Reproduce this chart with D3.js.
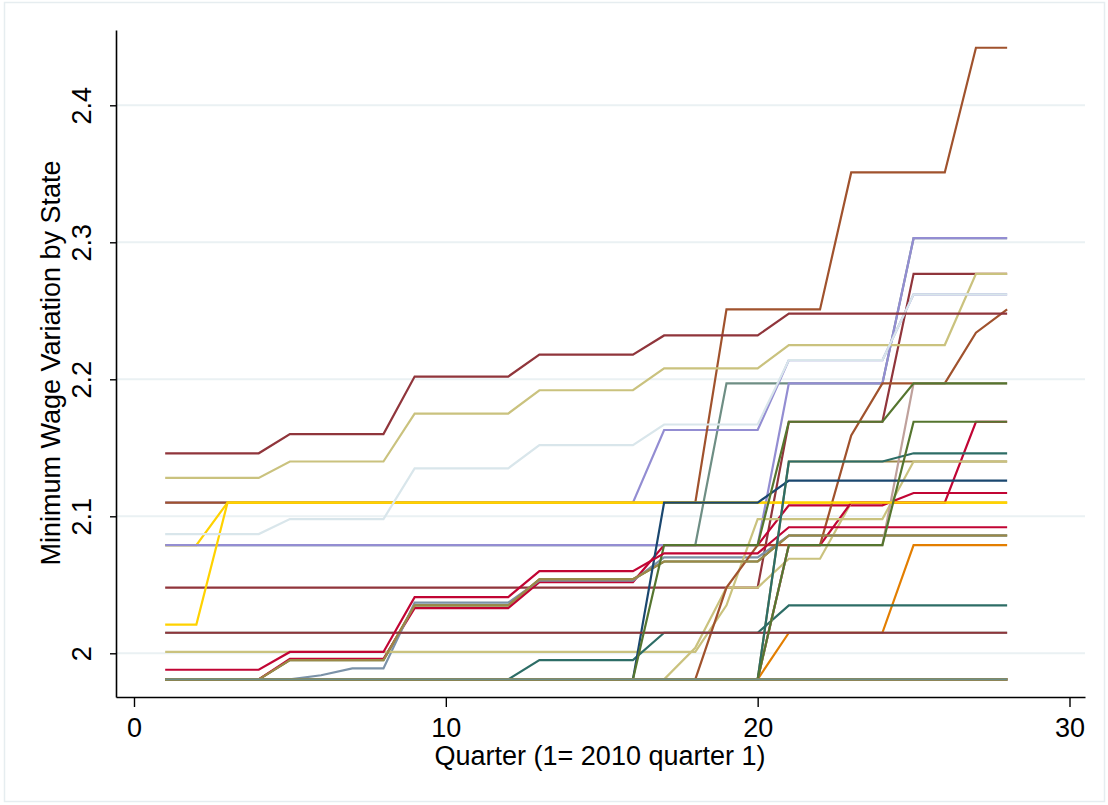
<!DOCTYPE html>
<html>
<head>
<meta charset="utf-8">
<script src="https://cdn.jsdelivr.net/npm/d3@7"></script>
<style>
  body { margin: 0; background: #fff; }
  text { font-family: "Liberation Sans", Arial, sans-serif; fill: #000; }
</style>
</head>
<body>
<div id="chart"></div>
<script>
// quarters (1 = 2010 q1)
const quarters = [1,2,3,4,5,6,7,8,9,10,11,12,13,14,15,16,17,18,19,20,21,22,23,24,25,26,27,28];
const xTicks = [0, 10, 20, 30];
const yTicks = [2, 2.1, 2.2, 2.3, 2.4];

// log minimum wage by state
const federal = [1.981,1.981,1.981,1.981,1.981,1.981,1.981,1.981,1.981,1.981,1.981,1.981,1.981,1.981,1.981,1.981,1.981,1.981,1.981,1.981,1.981,1.981,1.981,1.981,1.981,1.981,1.981,1.981];
const AK = [2.048,2.048,2.048,2.048,2.048,2.048,2.048,2.048,2.048,2.048,2.048,2.048,2.048,2.048,2.048,2.048,2.048,2.048,2.048,2.048,2.169,2.169,2.169,2.169,2.277,2.277,2.277,2.277];
const AZ = [1.981,1.981,1.981,1.981,1.995,1.995,1.995,1.995,2.035,2.035,2.035,2.035,2.054,2.054,2.054,2.054,2.067,2.067,2.067,2.067,2.086,2.086,2.086,2.086,2.086,2.086,2.086,2.086];
const AR = [1.981,1.981,1.981,1.981,1.981,1.981,1.981,1.981,1.981,1.981,1.981,1.981,1.981,1.981,1.981,1.981,1.981,1.981,1.981,1.981,2.015,2.015,2.015,2.015,2.079,2.079,2.079,2.079];
const CA = [2.079,2.079,2.079,2.079,2.079,2.079,2.079,2.079,2.079,2.079,2.079,2.079,2.079,2.079,2.079,2.079,2.079,2.079,2.197,2.197,2.197,2.197,2.197,2.197,2.303,2.303,2.303,2.303];
const CO = [1.981,1.981,1.981,1.981,1.996,1.996,1.996,1.996,2.033,2.033,2.033,2.033,2.052,2.052,2.052,2.052,2.079,2.079,2.079,2.079,2.108,2.108,2.108,2.108,2.117,2.117,2.117,2.117];
const CT = [2.110,2.110,2.110,2.110,2.110,2.110,2.110,2.110,2.110,2.110,2.110,2.110,2.110,2.110,2.110,2.110,2.163,2.163,2.163,2.163,2.214,2.214,2.214,2.214,2.262,2.262,2.262,2.262];
const DE = [1.981,1.981,1.981,1.981,1.981,1.981,1.981,1.981,1.981,1.981,1.981,1.981,1.981,1.981,1.981,1.981,1.981,2.004,2.048,2.048,2.069,2.069,2.110,2.110,2.110,2.110,2.110,2.110];
const DC = [2.110,2.110,2.110,2.110,2.110,2.110,2.110,2.110,2.110,2.110,2.110,2.110,2.110,2.110,2.110,2.110,2.110,2.110,2.251,2.251,2.251,2.251,2.351,2.351,2.351,2.351,2.442,2.442];
const FL = [1.981,1.981,1.981,1.981,1.981,1.984,1.989,1.989,2.037,2.037,2.037,2.037,2.053,2.053,2.053,2.053,2.070,2.070,2.070,2.070,2.086,2.086,2.086,2.086,2.086,2.086,2.086,2.086];
const HI = [1.981,1.981,1.981,1.981,1.981,1.981,1.981,1.981,1.981,1.981,1.981,1.981,1.981,1.981,1.981,1.981,1.981,1.981,1.981,1.981,2.140,2.140,2.140,2.140,2.140,2.140,2.140,2.140];
const IL = [2.079,2.079,2.110,2.110,2.110,2.110,2.110,2.110,2.110,2.110,2.110,2.110,2.110,2.110,2.110,2.110,2.110,2.110,2.110,2.110,2.110,2.110,2.110,2.110,2.110,2.110,2.110,2.110];
const ME = [2.015,2.015,2.015,2.015,2.015,2.015,2.015,2.015,2.015,2.015,2.015,2.015,2.015,2.015,2.015,2.015,2.015,2.015,2.015,2.015,2.015,2.015,2.015,2.015,2.015,2.015,2.015,2.015];
const MD = [1.981,1.981,1.981,1.981,1.981,1.981,1.981,1.981,1.981,1.981,1.981,1.981,1.981,1.981,1.981,1.981,1.981,1.981,1.981,1.981,2.079,2.079,2.110,2.110,2.110,2.110,2.169,2.169];
const MA = [2.079,2.079,2.079,2.079,2.079,2.079,2.079,2.079,2.079,2.079,2.079,2.079,2.079,2.079,2.079,2.079,2.079,2.079,2.079,2.079,2.197,2.197,2.197,2.197,2.303,2.303,2.303,2.303];
const MI = [2.001,2.001,2.001,2.001,2.001,2.001,2.001,2.001,2.001,2.001,2.001,2.001,2.001,2.001,2.001,2.001,2.001,2.001,2.035,2.098,2.098,2.098,2.098,2.098,2.140,2.140,2.140,2.140];
const MN = [1.981,1.981,1.981,1.981,1.981,1.981,1.981,1.981,1.981,1.981,1.981,1.981,1.981,1.981,1.981,1.981,1.981,1.981,2.048,2.079,2.079,2.079,2.159,2.197,2.197,2.197,2.234,2.251];
const MO = [1.981,1.981,1.981,1.981,1.981,1.981,1.981,1.981,1.981,1.981,1.981,1.981,1.995,1.995,1.995,1.995,2.015,2.015,2.015,2.015,2.035,2.035,2.035,2.035,2.035,2.035,2.035,2.035];
const MT = [1.981,1.981,1.981,1.981,1.995,1.995,1.995,1.995,2.035,2.035,2.035,2.035,2.054,2.054,2.054,2.054,2.067,2.067,2.067,2.067,2.086,2.086,2.086,2.086,2.086,2.086,2.086,2.086];
const NE = [1.981,1.981,1.981,1.981,1.981,1.981,1.981,1.981,1.981,1.981,1.981,1.981,1.981,1.981,1.981,1.981,1.981,1.981,1.981,1.981,2.079,2.079,2.079,2.079,2.197,2.197,2.197,2.197];
const NV = [2.021,2.021,2.110,2.110,2.110,2.110,2.110,2.110,2.110,2.110,2.110,2.110,2.110,2.110,2.110,2.110,2.110,2.110,2.110,2.110,2.110,2.110,2.110,2.110,2.110,2.110,2.110,2.110];
const NJ = [1.981,1.981,1.981,1.981,1.981,1.981,1.981,1.981,1.981,1.981,1.981,1.981,1.981,1.981,1.981,1.981,2.110,2.110,2.110,2.110,2.126,2.126,2.126,2.126,2.126,2.126,2.126,2.126];
const NM = [2.015,2.015,2.015,2.015,2.015,2.015,2.015,2.015,2.015,2.015,2.015,2.015,2.015,2.015,2.015,2.015,2.015,2.015,2.015,2.015,2.015,2.015,2.015,2.015,2.015,2.015,2.015,2.015];
const NY = [1.981,1.981,1.981,1.981,1.981,1.981,1.981,1.981,1.981,1.981,1.981,1.981,1.981,1.981,1.981,1.981,2.079,2.079,2.079,2.079,2.169,2.169,2.169,2.169,2.197,2.197,2.197,2.197];
const OH = [1.988,1.988,1.988,1.988,2.001,2.001,2.001,2.001,2.041,2.041,2.041,2.041,2.060,2.060,2.060,2.060,2.073,2.073,2.073,2.073,2.092,2.092,2.092,2.092,2.092,2.092,2.092,2.092];
const OR = [2.128,2.128,2.128,2.128,2.140,2.140,2.140,2.140,2.175,2.175,2.175,2.175,2.192,2.192,2.192,2.192,2.208,2.208,2.208,2.208,2.225,2.225,2.225,2.225,2.225,2.225,2.277,2.277];
const SD = [1.981,1.981,1.981,1.981,1.981,1.981,1.981,1.981,1.981,1.981,1.981,1.981,1.981,1.981,1.981,1.981,1.981,1.981,1.981,1.981,2.140,2.140,2.140,2.140,2.146,2.146,2.146,2.146];
const VT = [2.087,2.087,2.087,2.087,2.098,2.098,2.098,2.098,2.135,2.135,2.135,2.135,2.152,2.152,2.152,2.152,2.167,2.167,2.167,2.167,2.214,2.214,2.214,2.214,2.262,2.262,2.262,2.262];
const WA = [2.146,2.146,2.146,2.146,2.160,2.160,2.160,2.160,2.202,2.202,2.202,2.202,2.218,2.218,2.218,2.218,2.232,2.232,2.232,2.232,2.248,2.248,2.248,2.248,2.248,2.248,2.248,2.248];
const WV = [1.981,1.981,1.981,1.981,1.981,1.981,1.981,1.981,1.981,1.981,1.981,1.981,1.981,1.981,1.981,1.981,1.981,1.981,1.981,1.981,2.079,2.079,2.079,2.079,2.169,2.169,2.169,2.169];

// states in plotting order, each picks the next colour of the scheme
const stateNames = ['AL','AK','AZ','AR','CA','CO','CT','DE','DC','FL','GA','HI','ID','IL','IN','IA','KS','KY','LA','ME',
  'MD','MA','MI','MN','MS','MO','MT','NE','NV','NH','NJ','NM','NY','NC','ND','OH','OK','OR','PA','SC','SD','TN','TX','UT',
  'VT','VA','WA','WV','WI','WY'];
const stateValues = [federal, AK, AZ, AR, CA, CO, CT, DE, DC, FL, federal, HI, federal, IL, federal, federal, federal, federal, federal, ME,
  MD, MA, MI, MN, federal, MO, MT, NE, NV, federal, NJ, NM, NY, federal, federal, OH, federal, OR, federal, federal, SD, federal, federal, federal,
  VT, federal, WA, WV, federal, federal];

const palette = ['#1a476f','#90353b','#55752f','#e37e00','#6e8e84','#c10534','#938dd2','#cac27e',
  '#a0522d','#7b92a8','#2d6d66','#9c8847','#bfa19c','#ffd200','#d9e6eb'];

const W = 1108, H = 805;

const svg = d3.select('#chart')
  .append('svg')
  .attr('width', W)
  .attr('height', H);

// outer graph region frame
svg.append('rect')
  .attr('x', 4.5).attr('y', 2.5)
  .attr('width', W - 8).attr('height', H - 6)
  .attr('fill', '#fff')
  .attr('stroke', '#e6edf0')
  .attr('stroke-width', 1.5);

const x = d3.scaleLinear()
  .domain([-0.577, 30.497])
  .range([116, 1085]);

const y = d3.scaleLinear()
  .domain([1.9681, 2.45496])
  .range([697, 30]);

// grid
svg.append('g')
  .selectAll('line')
  .data(yTicks)
  .enter()
  .append('line')
  .attr('x1', 117).attr('x2', 1085)
  .attr('y1', d => y(d)).attr('y2', d => y(d))
  .attr('stroke', '#eaf1f3')
  .attr('stroke-width', 2);

const line = d3.line()
  .x((d, i) => x(quarters[i]))
  .y(d => y(d));

svg.append('g')
  .selectAll('path')
  .data(stateValues)
  .enter()
  .append('path')
  .attr('d', d => line(d))
  .attr('fill', 'none')
  .attr('stroke', (d, i) => palette[i % palette.length])
  .attr('stroke-width', 2.2);

// y axis
const yAxis = svg.append('g')
  .attr('transform', 'translate(116,0)')
  .call(d3.axisLeft(y).tickValues(yTicks).tickSize(6).tickSizeOuter(0).tickFormat(d3.format('')));
yAxis.select('.domain').attr('stroke', '#000').attr('stroke-width', 1.6);
yAxis.selectAll('.tick line').attr('stroke', '#000').attr('stroke-width', 1.4);
yAxis.selectAll('.tick text')
  .attr('x', null).attr('dy', null)
  .attr('text-anchor', 'middle')
  .attr('transform', 'translate(-25,0) rotate(-90)')
  .style('font-size', '27px')
  .style('font-family', '"Liberation Sans", Arial, sans-serif');

// x axis
const xAxis = svg.append('g')
  .attr('transform', 'translate(0,697)')
  .call(d3.axisBottom(x).tickValues(xTicks).tickSize(10).tickSizeOuter(0).tickFormat(d3.format('d')));
xAxis.select('.domain').attr('stroke', '#000').attr('stroke-width', 1.6);
xAxis.selectAll('.tick line').attr('stroke', '#000').attr('stroke-width', 1.4);
xAxis.selectAll('.tick text')
  .attr('y', 40).attr('dy', null)
  .style('font-size', '27px')
  .style('font-family', '"Liberation Sans", Arial, sans-serif');

// axis titles
svg.append('text')
  .attr('x', 600).attr('y', 765)
  .attr('text-anchor', 'middle')
  .style('font-size', '27px')
  .text('Quarter (1= 2010 quarter 1)');

svg.append('text')
  .attr('transform', 'translate(60,363) rotate(-90)')
  .attr('text-anchor', 'middle')
  .style('font-size', '27px')
  .text('Minimum Wage Variation by State');
</script>
</body>
</html>
